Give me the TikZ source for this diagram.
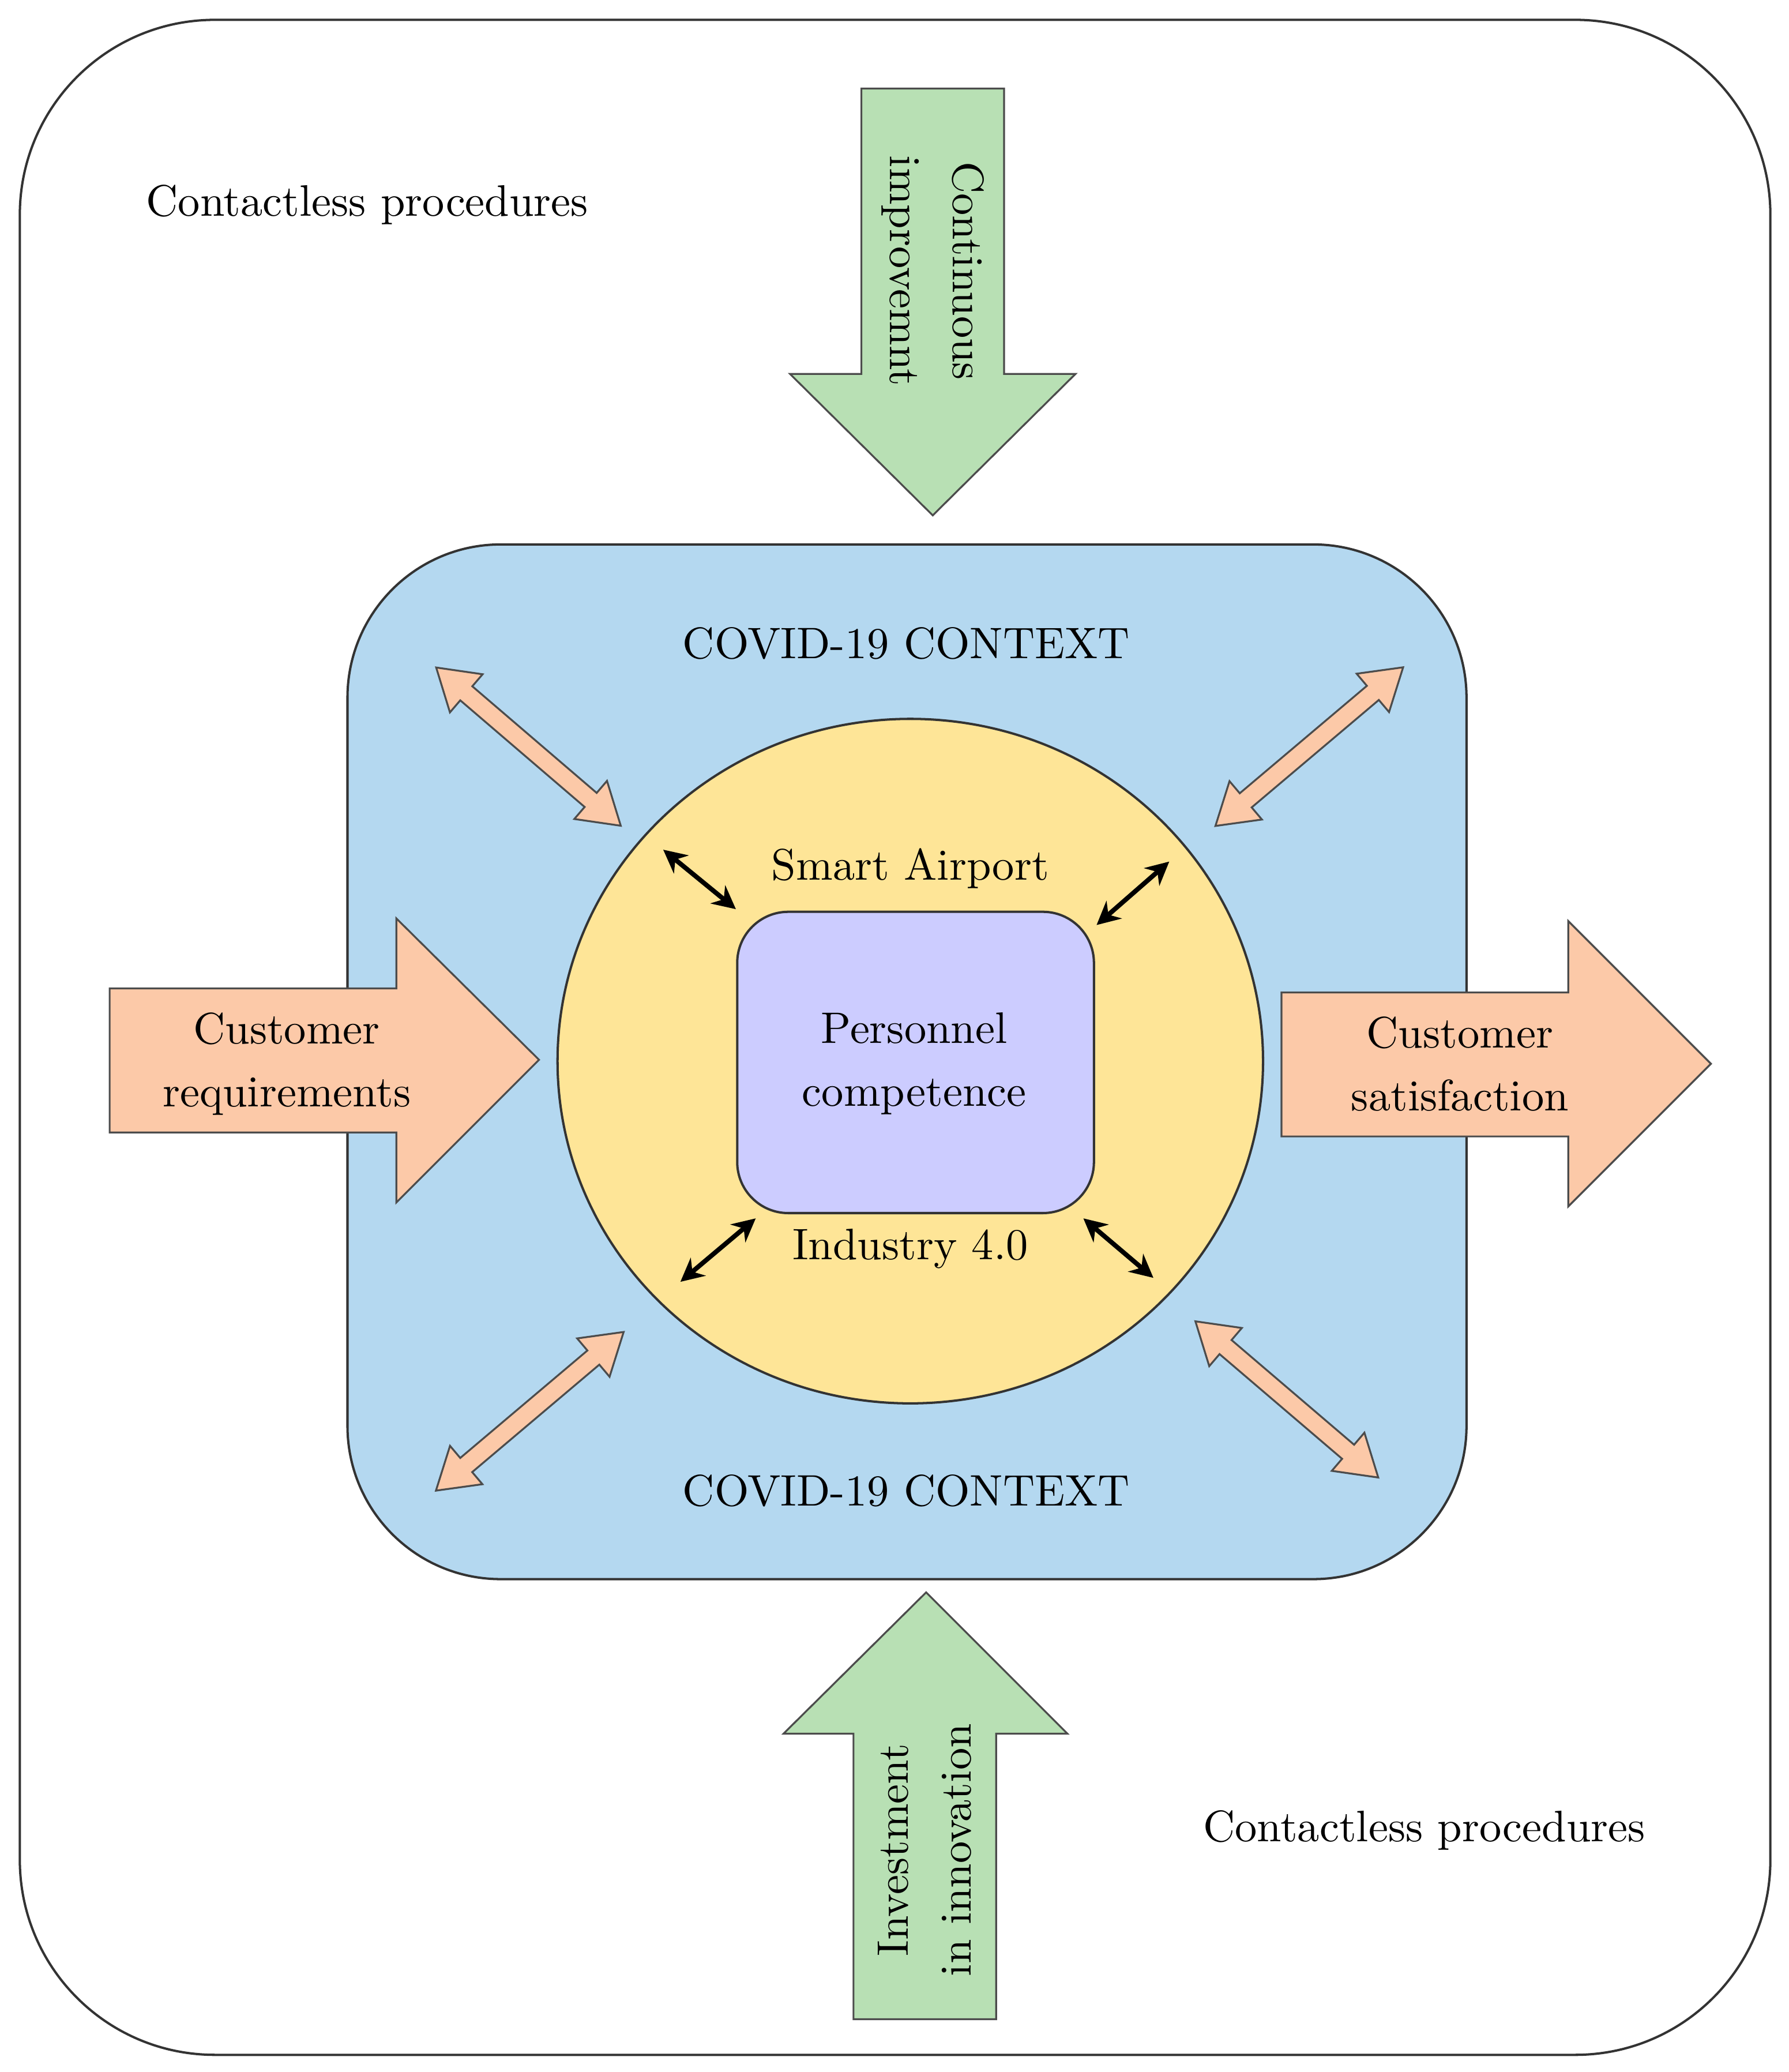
\documentclass[tikz,border=0pt]{standalone}
\usepackage{xcolor}
\usepackage{tikz}
\usetikzlibrary{arrows.meta}
\definecolor{skyfill}{HTML}{B4D8F0}
\definecolor{sunfill}{HTML}{FEE597}
\definecolor{lilacfill}{HTML}{CCCCFF}
\definecolor{leaffill}{HTML}{B8E0B4}
\definecolor{peachfill}{HTML}{FCC9A8}
\tikzset{
  lbl/.style={font=\fontsize{9.5}{11.5}\selectfont,align=center,inner sep=0pt},
  box/.style={draw=black!80,line width=0.5pt},
  fat/.style={draw=black!70,line width=0.4pt},
  link/.style={<->,>={Stealth[length=5pt,width=5pt]},line width=1pt}
}
\begin{document}
\begin{tikzpicture}[x=0.1mm,y=-0.1mm]
\useasboundingbox (0,0) rectangle (1354,1568);
\draw[box,rounded corners=150pt*0.28] (15,15) rectangle (1340,1555);
\draw[box,fill=skyfill,rounded corners=33pt] (263,412) rectangle (1110,1195);
\draw[box,fill=sunfill] (689,803) ellipse (267 and 259);
\draw[box,fill=lilacfill,rounded corners=11pt] (558,690) rectangle (828,918);

% big arrows
\draw[fat,fill=leaffill] (652,67)--(760,67)--(760,283)--(814,283)--(706,390)--(598,283)--(652,283)--cycle;
\draw[fat,fill=leaffill] (646,1528)--(754,1528)--(754,1312)--(808,1312)--(701,1205)--(593,1312)--(646,1312)--cycle;
\draw[fat,fill=peachfill] (83,748)--(300,748)--(300,695)--(408,802)--(300,910)--(300,857)--(83,857)--cycle;
\draw[fat,fill=peachfill] (970,751)--(1187,751)--(1187,697)--(1295,805)--(1187,913)--(1187,860)--(970,860)--cycle;

% double arrows between the layers
\foreach \cx/\cy/\ang/\len in {400/565/-40.6/184, 991/565/40.2/186, 401/1068/40.2/186, 974/1059/-40.5/182}{
  \begin{scope}[shift={(\cx,\cy)},rotate=\ang]
    \pgfmathsetmacro{\h}{\len/2}
    \pgfmathsetmacro{\k}{\len/2-30}
    \draw[fat,fill=peachfill] (-\h,0)--(-\k,19)--(-\k,7)--(\k,7)--(\k,19)--(\h,0)
      --(\k,-19)--(\k,-7)--(-\k,-7)--(-\k,-19)--cycle;
  \end{scope}
}
\draw[link] (502,643)--(557,688);
\draw[link] (885,652)--(830,700);
\draw[link] (515,970)--(572,922);
\draw[link] (820,922)--(873,967);

% texts
\node[lbl] (ctl1) at (278,155) {Contactless procedures};
\node[lbl] (ctl2) at (1078,1385) {Contactless procedures};
\node[lbl] (cov1) at (686,487) {COVID-19 CONTEXT};
\node[lbl] (cov2) at (686,1128) {COVID-19 CONTEXT};
\node[lbl] (smart) at (689,657) {Smart Airport};
\node[lbl] (ind) at (689,945) {Industry 4.0};
\node[lbl] (pers) at (692,805) {Personnel\\[2pt]competence};
\node[lbl] (creq) at (217,805) {Customer\\[2pt]requirements};
\node[lbl] (csat) at (1105,805) {Customer\\[2pt]satisfaction};
\node[lbl,rotate=-90] (cimp) at (706,205) {Continuous\\[2pt]improvemnt};
\node[lbl,rotate=90] (inv) at (700,1400) {Investment\\[2pt]in innovation};
\end{tikzpicture}
\end{document}
